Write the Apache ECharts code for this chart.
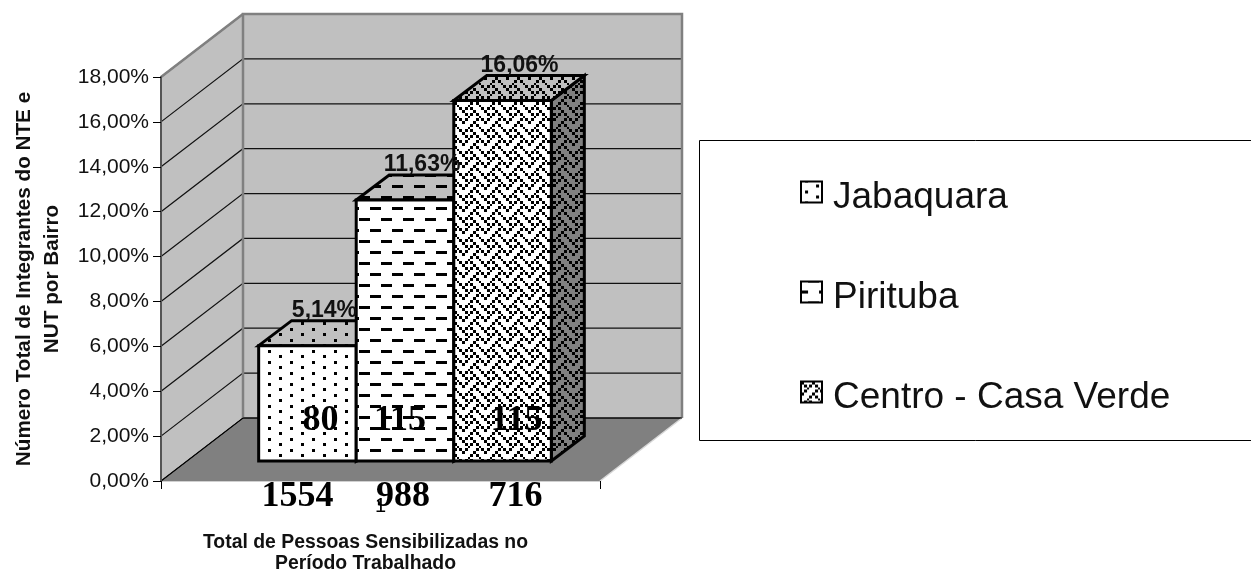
<!DOCTYPE html>
<html><head><meta charset="utf-8"><style>html,body{margin:0;padding:0;background:#fff}#c{width:1251px;height:575px}</style>
<script src="https://cdn.jsdelivr.net/npm/echarts@6/dist/echarts.min.js"></script></head>
<body><div id="c"></div>
<script>
const seriesNames = ['Jabaquara', 'Pirituba', 'Centro - Casa Verde'];
const categories = ['1'];
const percentValues = [5.14, 11.63, 16.06];
const integrantes = ['80', '115', '115'];
const pessoas = ['1554', '988', '716'];
const yTicks = [0, 2, 4, 6, 8, 10, 12, 14, 16, 18];

// 3D projection (pixels)
const WALL = [82, -63], FRONT = [24.5, -20], BAR = [33, -25];
const insideNudge = [13, -5, 14], belowNudge = [-10, -2, 13];

function tile(w, h, bg, rects) {
  const c = document.createElement('canvas'); c.width = w; c.height = h;
  const g = c.getContext('2d'); g.fillStyle = bg; g.fillRect(0, 0, w, h); g.fillStyle = '#000';
  rects.forEach(r => { for (const dx of [0, -w]) for (const dy of [0, -h]) g.fillRect(r[0] + dx, r[1] + dy, r[2], r[3]); });
  return { image: c, repeat: 'repeat' };
}
const dotRects = [[4, 9, 3, 3], [15, 3, 3, 3]];
const dashRects = [[18, 9, 11, 3], [7, 20, 11, 3]];
const zigRects = (function () {
  const out = [], s = 2.75;
  const rows = ['X...X...', '.X.X.X..', '..X...X.', '.X...X.X', 'X...X...', '...X.X..', '..X...X.', '.X.X...X'];
  rows.forEach((r, y) => {
    [...r].forEach((ch, x) => {
      if (ch !== 'X') return;
      const x0 = Math.round(x * s), y0 = Math.round(y * s);
      out.push([x0, y0, Math.round((x + 1) * s) - x0, Math.round((y + 1) * s) - y0]);
    });
  });
  return out;
})();
const patternDefs = [dotRects, dashRects, zigRects];
const tileSize = [[22, 11], [22, 22], [22, 22]];
const faces = patternDefs.map((r, i) => ({
  front: tile(tileSize[i][0], tileSize[i][1], '#fff', r),
  top: tile(tileSize[i][0], tileSize[i][1], '#c0c0c0', r),
  side: tile(tileSize[i][0], tileSize[i][1], '#808080', r)
}));

const fmt = v => v.toFixed(2).replace('.', ',') + '%';
const poly = (pts, fill, z2, stroke, lw) => ({ type: 'polygon', z2, shape: { points: pts }, style: { fill, stroke: stroke || null, lineWidth: lw || 0 } });
const add = (p, d) => [p[0] + d[0], p[1] + d[1]];

function renderWalls(params, api) {
  const cs = params.coordSys, x0 = cs.x, x1 = cs.x + cs.width;
  const y0 = api.coord([0, 0])[1], yT = api.coord([0, 18])[1];
  const A = [x0, y0], B = [x1, y0], T = [x0, yT];
  const ch = [];
  ch.push(poly([A, add(A, WALL), add(B, WALL), B], '#808080', 1));
  ch.push(poly([A, T, add(T, WALL), add(A, WALL)], '#c0c0c0', 1));
  ch.push(poly([add(A, WALL), add(T, WALL), add([x1, yT], WALL), add(B, WALL)], '#c0c0c0', 1));
  yTicks.forEach(v => {
    const p = [x0, api.coord([0, v])[1]], q = add(p, WALL), r = add([x1, p[1]], WALL);
    ch.push({ type: 'polyline', z2: 2, shape: { points: [p, q, r] }, style: { fill: null, stroke: '#111', lineWidth: 1.2 } });
  });
  const gray = { fill: null, stroke: '#808080', lineWidth: 2.5 };
  ch.push({ type: 'polyline', z2: 3, shape: { points: [add(A, WALL), add(T, WALL), add([x1, yT], WALL), add(B, WALL)] }, style: gray });
  ch.push({ type: 'polyline', z2: 3, shape: { points: [T, add(T, WALL)] }, style: gray });
  const bl = add(A, WALL), br = add(B, WALL);
  ch.push({ type: 'polyline', z2: 4, shape: { points: [A, bl, br] }, style: { fill: null, stroke: '#000', lineWidth: 1 } });
  ch.push({ type: 'polyline', z2: 3, shape: { points: [br, B] }, style: { fill: null, stroke: '#d8d8d8', lineWidth: 1.5 } });
  return { type: 'group', children: ch };
}

function barRenderer(i) {
  return function (params, api) {
    const band = api.size([1, 0])[0], w = band / 4.5;
    const c = api.coord([0, 0]), t = api.coord([0, api.value(1)]);
    const left = params.coordSys.x + (band - 3 * w) / 2 + i * w + FRONT[0];
    const yb = c[1] + FRONT[1], yt = t[1] + FRONT[1];
    const a = [left, yb], b = [left + w, yb], e = [left + w, yt], d = [left, yt];
    const st = '#000', lw = 3, f = faces[i];
    const cx = left + w / 2;
    return { type: 'group', children: [
      poly([b, add(b, BAR), add(e, BAR), e], f.side, 10 + i * 3, st, lw),
      poly([d, add(d, BAR), add(e, BAR), e], f.top, 11 + i * 3, st, lw),
      poly([a, d, e, b], f.front, 12 + i * 3, st, lw),
      { type: 'text', z2: 50, style: { x: cx + BAR[0] - 16, y: yt + BAR[1] - 10, text: fmt(api.value(1)), font: 'bold 23px "Liberation Sans"', fill: '#111', align: 'center', verticalAlign: 'middle' } },
      { type: 'text', z2: 50, style: { x: cx + insideNudge[i], y: c[1] - 60, text: integrantes[i], font: 'bold 36px "Liberation Serif"', fill: '#000', align: 'center', verticalAlign: 'middle' } },
      { type: 'text', z2: 50, style: { x: cx + belowNudge[i], y: c[1] + 16, text: pessoas[i], font: 'bold 36px "Liberation Serif"', fill: '#000', align: 'center', verticalAlign: 'middle' } }
    ] };
  };
}

const chart = echarts.init(document.getElementById('c'), null, { renderer: 'canvas' });
chart.setOption({
  animation: false,
  backgroundColor: '#fff',
  textStyle: { fontFamily: '"Liberation Sans"' },
  grid: { left: 161, top: 77, width: 439, height: 404, containLabel: false, outerBoundsMode: 'none' },
  graphic: [{ type: 'rect', z: 0, shape: { x: 699.5, y: 140.5, width: 560, height: 300 }, style: { fill: '#fff', stroke: '#000', lineWidth: 1 } }],
  legend: {
    orient: 'vertical', left: 800, top: 179, padding: 0, itemGap: 63, itemWidth: 21, itemHeight: 21, selectedMode: false,
    formatter: '{t|{name}}',
    textStyle: { fontSize: 37, color: '#111', padding: [0, 0, 0, 6], fontFamily: '"Liberation Sans"',
      rich: { t: { fontSize: 37, color: '#111', fontFamily: '"Liberation Sans"', lineHeight: 48, verticalAlign: 'bottom' } } },
    data: seriesNames.map((n, i) => ({ name: n, icon: 'rect', itemStyle: { color: faces[i].front, borderColor: '#000', borderWidth: 2 } }))
  },
  xAxis: {
    type: 'category', data: categories, z: 3,
    axisLine: { lineStyle: { color: '#d0d0d0', width: 1 } },
    axisTick: { show: true, length: 8, lineStyle: { color: '#000', width: 1 } },
    axisLabel: { margin: 15, fontSize: 20, color: '#000' },
    name: 'Total de Pessoas Sensibilizadas no\nPeríodo Trabalhado', nameLocation: 'middle', nameGap: 51,
    nameTextStyle: { fontSize: 19.4, fontWeight: 'bold', color: '#111', lineHeight: 21, padding: [0, 30, 0, 0] }
  },
  yAxis: {
    type: 'value', min: 0, max: 18, interval: 2, z: 3,
    axisLine: { show: true, lineStyle: { color: '#555', width: 2 } },
    axisTick: { show: true, length: 8, lineStyle: { color: '#000', width: 1 } },
    splitLine: { show: false },
    axisLabel: { formatter: fmt, fontSize: 21, color: '#111', margin: 12 },
    name: 'Número Total de Integrantes do NTE e\nNUT por Bairro', nameLocation: 'middle', nameGap: 95, nameRotate: 90,
    nameTextStyle: { fontSize: 20.7, fontWeight: 'bold', color: '#111', lineHeight: 28 }
  },
  series: [
    { type: 'custom', name: '__walls', z: 1, silent: true, clip: false, coordinateSystem: 'cartesian2d', data: [[0, 0]], renderItem: renderWalls }
  ].concat(seriesNames.map((n, i) => ({
    type: 'custom', name: n, z: 2, silent: true, clip: false, coordinateSystem: 'cartesian2d',
    encode: { x: 0, y: 1 }, data: [[0, percentValues[i]]], renderItem: barRenderer(i)
  })))
});
</script></body></html>
